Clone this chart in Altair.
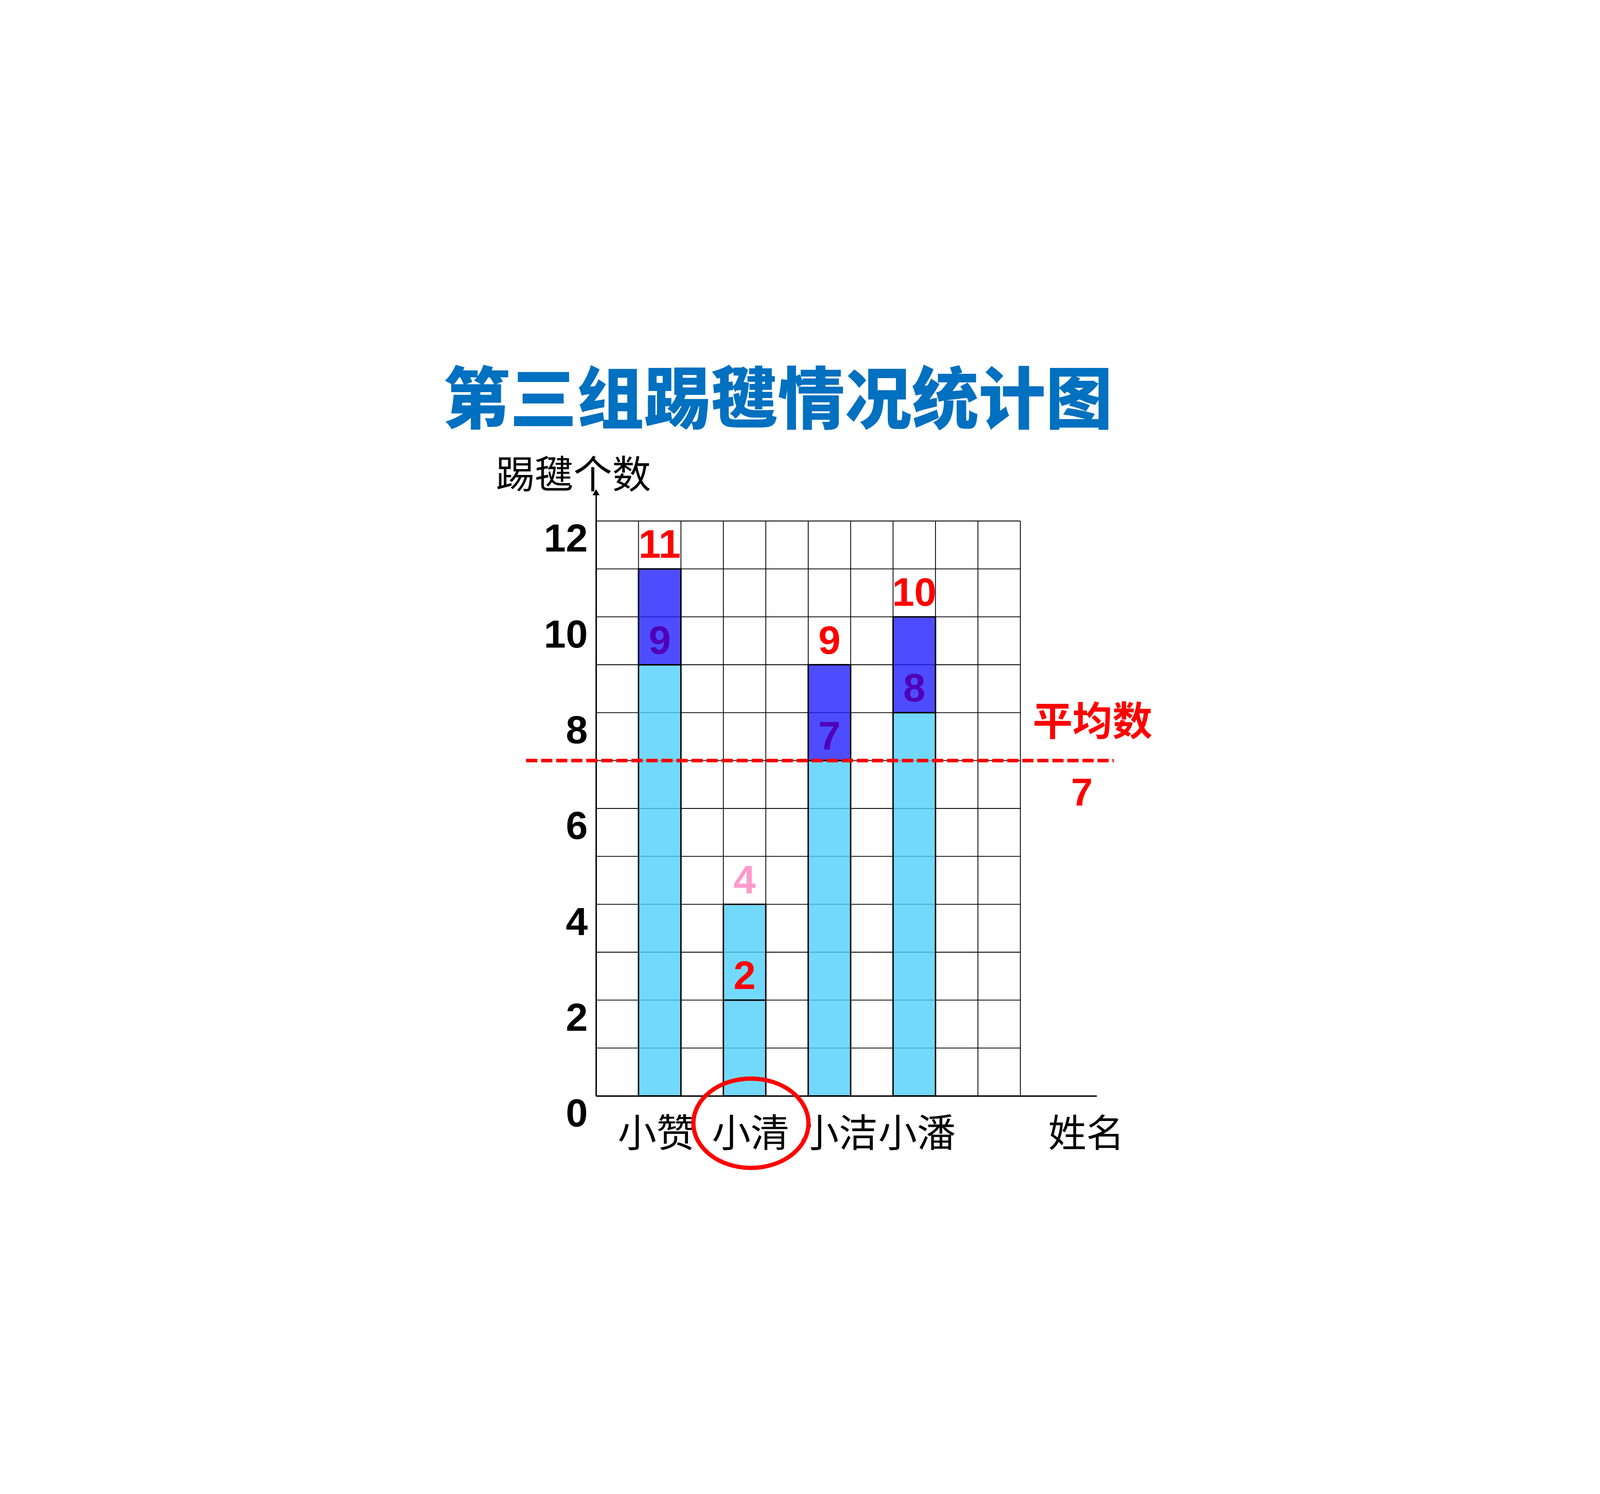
import json
import altair as alt
import pandas as pd

# ---------------- data ----------------
names = ["小赞", "小清", "小洁", "小潘"]
totals = [11, 4, 9, 10]
lowers = [9, 2, 7, 8]
average = 7
highlight = "小清"
y_ticks = [0, 2, 4, 6, 8, 10, 12]
grid_rows = list(range(0, 13))
grid_cols = list(range(0, 11))
title_text = "第三组踢毽情况统计图"
y_title = "踢毽个数"
x_title = "姓名"
avg_label = "平均数"

# ---------------- layout ----------------
COL = 180.6
ROW = 204.0
X_MAX = 11.8
Y_MAX = 12.6
W = round(X_MAX * COL)
H = round(Y_MAX * ROW)
PAD_L = 2524
PAD_T = 820
PAD_R = 6784 - PAD_L - W
PAD_B = 3809 - PAD_T - H
name_label_x = [1.42, 3.64, 5.72, 7.56]
CJK = "Noto Sans CJK SC"
LAT = "Liberation Sans"

xscale = alt.Scale(domain=[0, X_MAX], nice=False, zero=False)
yscale = alt.Scale(domain=[0, Y_MAX], nice=False, zero=False)

label_expr = "{}[indexof({}, datum.value)]".format(
    json.dumps(names, ensure_ascii=False), json.dumps(name_label_x)
)

xaxis = alt.Axis(
    values=name_label_x, labelExpr=label_expr, grid=False, ticks=False, tickSize=0,
    domainColor="black", domainWidth=6, labelFont=CJK, labelFontSize=165,
    labelColor="black", labelPadding=166, labelBaseline="middle", labelFlush=False,
    labelOverlap=False, labelBound=False, labelLimit=2000,
    title=x_title, titleFont=CJK, titleFontSize=162, titleFontWeight="normal",
    titleColor="black", titleX=2086, titleY=166, titleAlign="center",
    titleBaseline="middle", titleAnchor="start", titleLimit=2000,
)
yaxis = alt.Axis(
    values=y_ticks, grid=False, ticks=False, tickSize=0, domainColor="black",
    domainWidth=6, labelFont=LAT, labelFontSize=168, labelFontWeight="bold",
    labelColor="black", labelPadding=36, labelOffset=80, labelBaseline="middle",
    labelFlush=False, labelOverlap=False, labelBound=False, labelLimit=2000,
    title=y_title, titleFont=CJK, titleFontSize=165, titleFontWeight="normal",
    titleColor="black", titleAngle=0, titleX=-97, titleY=-67, titleAlign="center",
    titleBaseline="middle", titleAnchor="start", titleLimit=2000,
)


def X(f):
    return alt.X(f, type="quantitative", scale=xscale, axis=xaxis)


def Y(f):
    return alt.Y(f, type="quantitative", scale=yscale, axis=yaxis)


# ---------------- derived tables ----------------
seg_fill = {"base": "#4fd0fc", "move": "#2121ff"}
rows = []
labels = []
for i, n in enumerate(names):
    kind = "add" if totals[i] < average else "move"
    x0 = 2 * i + 1
    rows.append({"name": n, "x": x0, "x2": x0 + 1, "y": 0, "y2": lowers[i], "fill": seg_fill["base"]})
    rows.append({"name": n, "x": x0, "x2": x0 + 1, "y": lowers[i], "y2": totals[i],
                 "fill": seg_fill["base"] if kind == "add" else seg_fill["move"]})
    labels.append({"x": x0 + 0.5, "y": totals[i], "t": str(totals[i]),
                   "c": "#ff99cc" if kind == "add" else "#ff0000"})
    labels.append({"x": x0 + 0.5, "y": lowers[i], "t": str(lowers[i]),
                   "c": "#ff0000" if kind == "add" else "#5000b8"})
seg_df = pd.DataFrame(rows)
lab_df = pd.DataFrame(labels)

hgrid = pd.DataFrame({"y": grid_rows, "x": 0, "x2": grid_cols[-1]})
vgrid = pd.DataFrame({"x": grid_cols, "y": 0, "y2": grid_rows[-1]})
avg_df = pd.DataFrame({"x": [-1.65], "x2": [12.2], "y": [average]})
avg_txt = pd.DataFrame({"x": [11.7], "y": [average], "t": [avg_label]})
avg_num = pd.DataFrame({"x": [11.45], "y": [average], "t": [str(average)]})
hi = names.index(highlight)
ell_df = pd.DataFrame({"x": [2 * hi + 1.65], "y": [-0.57]})
arrow_df = pd.DataFrame({"x": [0], "y": [Y_MAX]})

ellipse_path = ("M -1 0 C -1 -0.429 -0.552 -0.776 0 -0.776 C 0.552 -0.776 1 -0.429 1 0 "
                "C 1 0.429 0.552 0.776 0 0.776 C -0.552 0.776 -1 0.429 -1 0 Z")

# ---------------- layers ----------------
h_rules = alt.Chart(hgrid).mark_rule(color="black", strokeWidth=3.5).encode(
    x=X("x"), x2="x2", y=Y("y"))
v_rules = alt.Chart(vgrid).mark_rule(color="black", strokeWidth=3.5).encode(
    x=X("x"), y=Y("y"), y2="y2")
bars = alt.Chart(seg_df).mark_rect(stroke="black", strokeWidth=6, fillOpacity=0.8).encode(
    x=X("x"), x2="x2", y=Y("y"), y2="y2", fill=alt.Fill("fill:N", scale=None))
avg_rule = alt.Chart(avg_df).mark_rule(color="#ff0000", strokeWidth=15, strokeDash=[48, 16]).encode(
    x=X("x"), x2="x2", y=Y("y"))
bar_labels = alt.Chart(lab_df).mark_text(font=LAT, fontSize=170, fontWeight="bold",
                                         baseline="middle", align="center", dy=-98).encode(
    x=X("x"), y=Y("y"), text="t:N", color=alt.Color("c:N", scale=None))
avg_t1 = alt.Chart(avg_txt).mark_text(font=CJK, fontSize=170, fontWeight="bold", color="#ff0000",
                                      baseline="middle", align="center", dy=-158).encode(
    x=X("x"), y=Y("y"), text="t:N")
avg_t2 = alt.Chart(avg_num).mark_text(font=LAT, fontSize=165, fontWeight="bold", color="#ff0000",
                                      baseline="middle", align="center", dy=143).encode(
    x=X("x"), y=Y("y"), text="t:N")
ellipse = alt.Chart(ell_df).mark_point(shape=ellipse_path, size=490 ** 2, filled=False,
                                       stroke="#ff0000", strokeWidth=18, opacity=1).encode(
    x=X("x"), y=Y("y"))
arrow = alt.Chart(arrow_df).mark_point(shape="triangle-up", size=900, filled=True,
                                       color="black", opacity=1).encode(
    x=X("x"), y=Y("y"))

chart = alt.layer(
    h_rules, v_rules, bars, avg_rule, bar_labels, avg_t1, avg_t2, ellipse, arrow
).properties(
    width=W, height=H,
    autosize=alt.AutoSizeParams(type="none"),
    padding={"left": PAD_L, "top": PAD_T, "right": PAD_R, "bottom": PAD_B},
    title=alt.TitleParams(title_text, font=CJK, fontSize=285, fontWeight=900,
                          color="#0070c0", anchor="middle", dx=-292, offset=85),
    background="white",
).configure_view(stroke=None)

chart.save("out.html", embed_options={"renderer": "svg", "actions": False})
